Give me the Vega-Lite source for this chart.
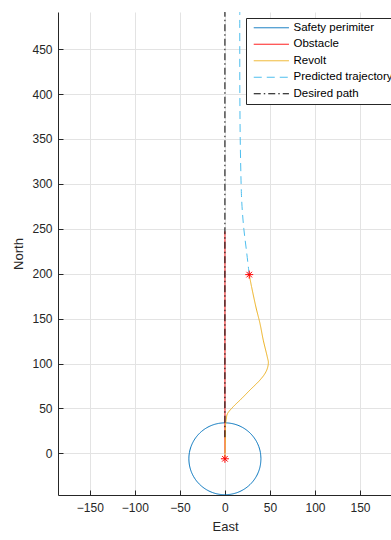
{
  "$schema": "https://vega.github.io/schema/vega-lite/v6.json",
  "width": 334,
  "height": 483,
  "autosize": "none",
  "padding": {"left": 58, "top": 12, "right": 0, "bottom": 45},
  "background": "white",
  "config": {
    "view": {"stroke": null},
    "font": "Liberation Sans",
    "axis": {
      "domainColor": "#262626",
      "tickColor": "#262626",
      "labelColor": "#262626",
      "titleColor": "#262626",
      "labelFont": "Liberation Sans",
      "titleFont": "Liberation Sans",
      "labelFontSize": 12,
      "titleFontSize": 13,
      "titleFontWeight": "normal",
      "gridColor": "#e3e3e3",
      "gridWidth": 1,
      "tickSize": -5,
      "labelPadding": 11
    }
  },
  "layer": [
    {
      "data": {
        "values": [
          {"series": "Safety perimiter", "i": 0, "x": 40, "y": -6},
          {"series": "Safety perimiter", "i": 1, "x": 39.39, "y": 0.94},
          {"series": "Safety perimiter", "i": 2, "x": 37.59, "y": 7.68},
          {"series": "Safety perimiter", "i": 3, "x": 34.64, "y": 14},
          {"series": "Safety perimiter", "i": 4, "x": 30.64, "y": 19.71},
          {"series": "Safety perimiter", "i": 5, "x": 25.71, "y": 24.64},
          {"series": "Safety perimiter", "i": 6, "x": 20, "y": 28.64},
          {"series": "Safety perimiter", "i": 7, "x": 13.68, "y": 31.59},
          {"series": "Safety perimiter", "i": 8, "x": 6.95, "y": 33.39},
          {"series": "Safety perimiter", "i": 9, "x": 0, "y": 34},
          {"series": "Safety perimiter", "i": 10, "x": -6.95, "y": 33.39},
          {"series": "Safety perimiter", "i": 11, "x": -13.68, "y": 31.59},
          {"series": "Safety perimiter", "i": 12, "x": -20, "y": 28.64},
          {"series": "Safety perimiter", "i": 13, "x": -25.71, "y": 24.64},
          {"series": "Safety perimiter", "i": 14, "x": -30.64, "y": 19.71},
          {"series": "Safety perimiter", "i": 15, "x": -34.64, "y": 14},
          {"series": "Safety perimiter", "i": 16, "x": -37.59, "y": 7.68},
          {"series": "Safety perimiter", "i": 17, "x": -39.39, "y": 0.94},
          {"series": "Safety perimiter", "i": 18, "x": -40, "y": -6},
          {"series": "Safety perimiter", "i": 19, "x": -39.39, "y": -12.94},
          {"series": "Safety perimiter", "i": 20, "x": -37.59, "y": -19.68},
          {"series": "Safety perimiter", "i": 21, "x": -34.64, "y": -26},
          {"series": "Safety perimiter", "i": 22, "x": -30.64, "y": -31.71},
          {"series": "Safety perimiter", "i": 23, "x": -25.71, "y": -36.64},
          {"series": "Safety perimiter", "i": 24, "x": -20, "y": -40.64},
          {"series": "Safety perimiter", "i": 25, "x": -13.68, "y": -43.59},
          {"series": "Safety perimiter", "i": 26, "x": -6.95, "y": -45.39},
          {"series": "Safety perimiter", "i": 27, "x": 0, "y": -46},
          {"series": "Safety perimiter", "i": 28, "x": 6.95, "y": -45.39},
          {"series": "Safety perimiter", "i": 29, "x": 13.68, "y": -43.59},
          {"series": "Safety perimiter", "i": 30, "x": 20, "y": -40.64},
          {"series": "Safety perimiter", "i": 31, "x": 25.71, "y": -36.64},
          {"series": "Safety perimiter", "i": 32, "x": 30.64, "y": -31.71},
          {"series": "Safety perimiter", "i": 33, "x": 34.64, "y": -26},
          {"series": "Safety perimiter", "i": 34, "x": 37.59, "y": -19.68},
          {"series": "Safety perimiter", "i": 35, "x": 39.39, "y": -12.94},
          {"series": "Safety perimiter", "i": 36, "x": 40, "y": -6},
          {"series": "Obstacle", "i": 0, "x": 0, "y": 0},
          {"series": "Obstacle", "i": 1, "x": 0, "y": 247},
          {"series": "Revolt", "i": 0, "x": 0, "y": -6},
          {"series": "Revolt", "i": 1, "x": 0.3, "y": 10},
          {"series": "Revolt", "i": 2, "x": 0.6, "y": 30},
          {"series": "Revolt", "i": 3, "x": 1.5, "y": 38},
          {"series": "Revolt", "i": 4, "x": 3, "y": 44.5},
          {"series": "Revolt", "i": 5, "x": 9.3, "y": 52},
          {"series": "Revolt", "i": 6, "x": 18.5, "y": 61},
          {"series": "Revolt", "i": 7, "x": 27.8, "y": 70.5},
          {"series": "Revolt", "i": 8, "x": 38.9, "y": 81.6},
          {"series": "Revolt", "i": 9, "x": 45.6, "y": 90.9},
          {"series": "Revolt", "i": 10, "x": 48.2, "y": 100},
          {"series": "Revolt", "i": 11, "x": 47, "y": 107.6},
          {"series": "Revolt", "i": 12, "x": 42.6, "y": 126},
          {"series": "Revolt", "i": 13, "x": 38.9, "y": 144.8},
          {"series": "Revolt", "i": 14, "x": 34.4, "y": 163},
          {"series": "Revolt", "i": 15, "x": 29.6, "y": 185.5},
          {"series": "Revolt", "i": 16, "x": 27, "y": 199},
          {"series": "Predicted trajectory", "i": 0, "x": 27, "y": 199},
          {"series": "Predicted trajectory", "i": 1, "x": 24, "y": 225},
          {"series": "Predicted trajectory", "i": 2, "x": 21, "y": 250},
          {"series": "Predicted trajectory", "i": 3, "x": 19, "y": 275},
          {"series": "Predicted trajectory", "i": 4, "x": 18, "y": 300},
          {"series": "Predicted trajectory", "i": 5, "x": 17, "y": 350},
          {"series": "Predicted trajectory", "i": 6, "x": 16.6, "y": 400},
          {"series": "Predicted trajectory", "i": 7, "x": 16.5, "y": 450},
          {"series": "Predicted trajectory", "i": 8, "x": 16.5, "y": 495},
          {"series": "Desired path", "i": 0, "x": 0, "y": 18},
          {"series": "Desired path", "i": 1, "x": 0, "y": 495}
        ]
      },
      "mark": {"type": "line", "clip": true, "strokeWidth": 1, "interpolate": "cardinal"},
      "encoding": {
        "x": {
          "field": "x", "type": "quantitative",
          "scale": {"domain": [-185.3, 185.5], "nice": false, "zero": false},
          "axis": {"title": "East", "values": [-150, -100, -50, 0, 50, 100, 150], "titlePadding": 7, "labelPadding": 12}
        },
        "y": {
          "field": "y", "type": "quantitative",
          "scale": {"domain": [-46.3, 491.3], "nice": false, "zero": false},
          "axis": {"title": "North", "values": [0, 50, 100, 150, 200, 250, 300, 350, 400, 450], "titlePadding": 6}
        },
        "order": {"field": "i", "type": "quantitative"},
        "color": {
          "field": "series", "type": "nominal",
          "scale": {
            "domain": ["Safety perimiter", "Obstacle", "Revolt", "Predicted trajectory", "Desired path"],
            "range": ["#0072BD", "#FF0000", "#EDB120", "#4DBEEE", "#000000"]
          },
          "legend": {
            "title": null,
            "orient": "none",
            "legendX": 188,
            "legendY": 6,
            "symbolType": "M-0.5,0L8.3,0",
            "symbolSize": 64,
            "symbolStrokeWidth": 1,
            "labelOffset": 32,
            "labelFontSize": 11.5,
            "labelColor": "#000000",
            "labelFont": "Liberation Sans",
            "strokeColor": "#262626",
            "fillColor": "white",
            "padding": 4,
            "rowPadding": 3.5
          }
        },
        "strokeDash": {
          "field": "series", "type": "nominal",
          "scale": {
            "domain": ["Safety perimiter", "Obstacle", "Revolt", "Predicted trajectory", "Desired path"],
            "range": [[1, 0], [1, 0], [1, 0], [8, 5], [7, 3, 1.5, 3]]
          },
          "legend": {
            "title": null,
            "orient": "none",
            "legendX": 188,
            "legendY": 6,
            "symbolType": "M-0.5,0L8.3,0",
            "symbolSize": 64,
            "symbolStrokeWidth": 1,
            "labelOffset": 32,
            "labelFontSize": 11.5,
            "labelColor": "#000000",
            "labelFont": "Liberation Sans",
            "strokeColor": "#262626",
            "fillColor": "white",
            "padding": 4,
            "rowPadding": 3.5
          }
        }
      }
    },
    {
      "data": {
        "values": [
          {"x": 0, "y": -6},
          {"x": 27, "y": 199}
        ]
      },
      "mark": {
        "type": "point",
        "shape": "M-1,0L1,0M0,-1L0,1M-0.7,-0.7L0.7,0.7M-0.7,0.7L0.7,-0.7",
        "filled": false,
        "stroke": "#FF0000",
        "strokeWidth": 1,
        "size": 64,
        "opacity": 1
      },
      "encoding": {
        "x": {"field": "x", "type": "quantitative"},
        "y": {"field": "y", "type": "quantitative"}
      }
    }
  ]
}
